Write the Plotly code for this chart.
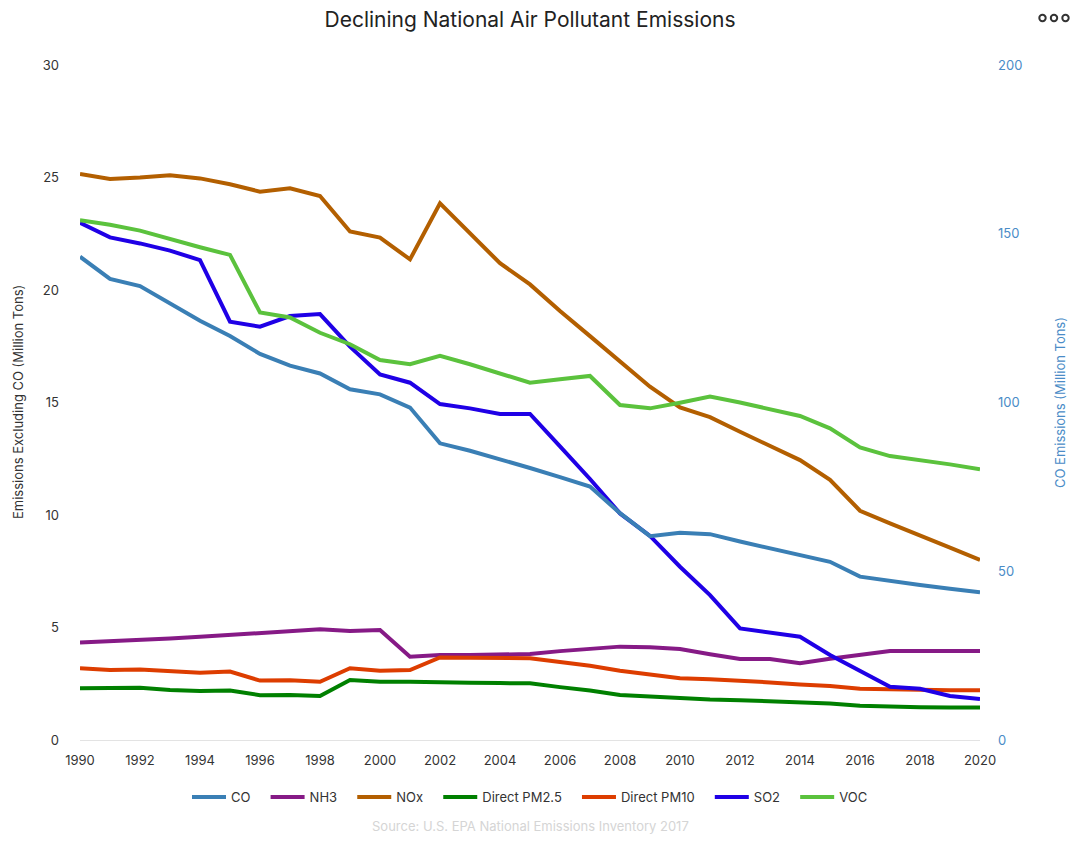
import plotly.graph_objects as go

years = list(range(1990, 2021))

co = [143.2, 136.6, 134.5, 129.2, 124.2, 119.7, 114.4, 110.9, 108.6, 103.9, 102.4, 98.5,
      87.9, 85.7, 83.3, 80.6, 77.9, 75.1, 67.2, 60.4, 61.4, 61.0, 58.8, 56.8, 54.8, 52.8,
      48.4, 47.1, 45.9, 44.8, 43.8]
nh3 = [4.33, 4.38, 4.44, 4.51, 4.59, 4.67, 4.74, 4.81, 4.92, 4.84, 4.89, 3.70, 3.78, 3.78,
       3.78, 3.82, 3.95, 4.07, 4.15, 4.12, 4.04, 3.81, 3.60, 3.60, 3.41, 3.61, 3.78, 3.96,
       3.96, 3.96, 3.96]
nox = [25.16, 24.93, 25.0, 25.1, 24.96, 24.7, 24.37, 24.52, 24.18, 22.6, 22.33, 21.36,
       23.85, 22.55, 21.19, 20.25, 19.07, 17.95, 16.8, 15.7, 14.78, 14.35, 13.7, 13.05,
       12.44, 11.56, 10.19, 9.63, 9.11, 8.55, 8.0]
pm25 = [2.30, 2.30, 2.32, 2.22, 2.18, 2.20, 1.99, 2.00, 1.96, 2.67, 2.59, 2.59, 2.55, 2.54,
        2.53, 2.52, 2.35, 2.20, 2.00, 1.93, 1.84, 1.80, 1.77, 1.73, 1.68, 1.62, 1.52, 1.48,
        1.46, 1.45, 1.44]
pm10 = [3.19, 3.11, 3.13, 3.04, 2.99, 3.04, 2.64, 2.66, 2.59, 3.19, 3.08, 3.11, 3.67, 3.66,
        3.65, 3.63, 3.47, 3.30, 3.08, 2.90, 2.74, 2.70, 2.64, 2.56, 2.47, 2.40, 2.28, 2.25,
        2.22, 2.21, 2.21]
so2 = [22.99, 22.34, 22.07, 21.75, 21.33, 18.59, 18.37, 18.84, 18.93, 17.48, 16.25, 15.88,
       14.93, 14.74, 14.49, 14.49, 13.05, 11.6, 10.07, 9.07, 7.70, 6.44, 4.96, 4.77, 4.59,
       3.78, 3.08, 2.37, 2.28, 1.96, 1.82]
voc = [23.1, 22.9, 22.64, 22.25, 21.9, 21.56, 19.0, 18.78, 18.1, 17.59, 16.89, 16.7, 17.07,
       16.7, 16.3, 15.88, 16.03, 16.18, 14.89, 14.74, 14.99, 15.26, 15.0, 14.7, 14.4, 13.85,
       13.0, 12.62, 12.45, 12.25, 12.03]

series = [
    ("CO", co, "#3a7fb5", "y2"),
    ("NH3", nh3, "#861a86", "y"),
    ("NOx", nox, "#b35f00", "y"),
    ("Direct PM2.5", pm25, "#008000", "y"),
    ("Direct PM10", pm10, "#dd3d00", "y"),
    ("SO2", so2, "#1f00e6", "y"),
    ("VOC", voc, "#5bc23d", "y"),
]

left_title = "Emissions Excluding CO (Million Tons)"
right_title = "CO Emissions (Million Tons)"
source_text = "Source: U.S. EPA National Emissions Inventory 2017"

font_family = "Inter, Roboto, 'Noto Sans', sans-serif"

# page has an 8px body margin; figure is sized to fit inside it
W, H = 1062, 826
L, R, T, B = 72, 90, 57, 94
plot_w = W - L - R
plot_h = H - T - B


def px_y(page_y):
    """paper y for a page pixel row"""
    return (H - B - (page_y - 8)) / plot_h


def px_x(page_x):
    return (page_x - 8 - L) / plot_w


fig = go.Figure()
for i, (name, vals, color, yax) in enumerate(series):
    label = name if i == len(series) - 1 else name + "\u2002\u00a0"
    fig.add_trace(go.Scatter(
        x=years, y=vals, name=label, mode="lines", yaxis=yax,
        line=dict(color=color, width=4),
    ))

# "more" icon: three small rings
shapes = []
for cx in (1042.5, 1054, 1065.5):
    shapes.append(dict(type="circle", xref="paper", yref="paper",
                       x0=px_x(cx - 3.2), x1=px_x(cx + 3.2),
                       y0=px_y(18 + 3.2), y1=px_y(18 - 3.2),
                       line=dict(color="#333333", width=2), fillcolor="rgba(0,0,0,0)"))

fig.update_layout(
    width=W, height=H,
    paper_bgcolor="white", plot_bgcolor="white",
    margin=dict(l=L, r=R, t=T, b=B, autoexpand=False),
    font=dict(family=font_family, size=13, color="#333333"),
    title=dict(text="Declining National Air Pollutant Emissions",
               x=0.5, xref="paper", y=1 - 12 / H, yanchor="middle",
               font=dict(size=21, color="#222222", family=font_family)),
    showlegend=True,
    legend=dict(orientation="h", x=0.5, xanchor="center", y=px_y(782), yanchor="top",
                font=dict(size=13, color="#333333"), traceorder="normal", itemwidth=34),
    xaxis=dict(range=[1990, 2020], dtick=2, tick0=1990, showgrid=False, zeroline=False,
               showline=True, linecolor="#e3e3e3", linewidth=1, automargin=False,
               ticks="", ticklabelstandoff=8, tickfont=dict(size=13, color="#333333")),
    yaxis=dict(range=[0, 30], dtick=5, showgrid=False, zeroline=False, automargin=False,
               ticks="", ticklabelstandoff=20, tickfont=dict(size=13, color="#333333")),
    yaxis2=dict(range=[0, 200], dtick=50, overlaying="y", side="right", showgrid=False,
                zeroline=False, ticks="", ticklabelstandoff=17, automargin=False,
                tickfont=dict(size=13, color="#4a8cc7")),
    shapes=shapes,
    annotations=[
        dict(text=left_title, x=px_x(18), y=px_y(402), xref="paper", yref="paper",
             xanchor="center", yanchor="middle", textangle=-90, showarrow=False,
             font=dict(size=13, color="#333333")),
        dict(text=right_title, x=px_x(1060), y=px_y(403), xref="paper", yref="paper",
             xanchor="center", yanchor="middle", textangle=-90, showarrow=False,
             font=dict(size=13, color="#4a8cc7")),
        dict(text=source_text, x=0.5, xref="paper",
             y=px_y(826), yref="paper", yanchor="middle", showarrow=False,
             font=dict(size=13, color="#d5d5d5")),
    ],
)

fig.write_html("out.html")
